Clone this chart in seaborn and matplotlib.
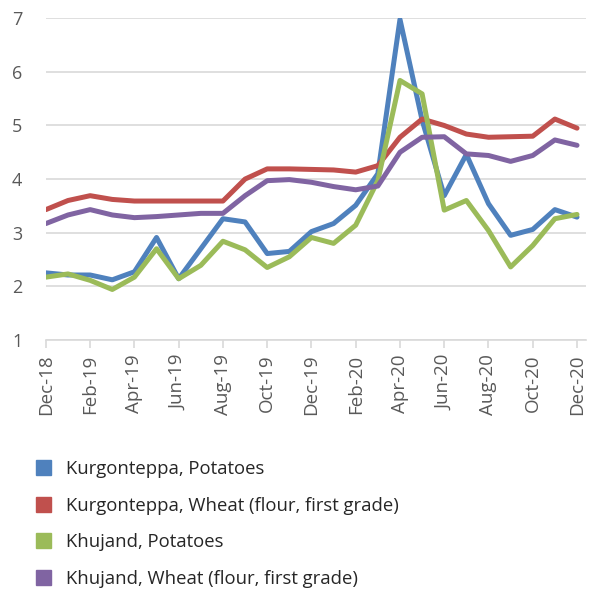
import matplotlib
matplotlib.use("Agg")
import matplotlib.pyplot as plt
from matplotlib.patches import Patch
import seaborn as sns
import pandas as pd

months = ["Dec-18", "Jan-19", "Feb-19", "Mar-19", "Apr-19", "May-19", "Jun-19", "Jul-19",
          "Aug-19", "Sep-19", "Oct-19", "Nov-19", "Dec-19", "Jan-20", "Feb-20", "Mar-20",
          "Apr-20", "May-20", "Jun-20", "Jul-20", "Aug-20", "Sep-20", "Oct-20", "Nov-20", "Dec-20"]

kurg_potatoes = [2.25, 2.21, 2.21, 2.12, 2.27, 2.91, 2.14, 2.70, 3.26, 3.20, 2.61, 2.65,
                 3.02, 3.17, 3.51, 4.10, 6.98, 5.10, 3.69, 4.46, 3.54, 2.95, 3.06, 3.43, 3.29]
kurg_wheat = [3.43, 3.60, 3.69, 3.62, 3.59, 3.59, 3.59, 3.59, 3.59, 4.00, 4.19, 4.19,
              4.18, 4.17, 4.13, 4.25, 4.78, 5.12, 5.00, 4.84, 4.78, 4.79, 4.80, 5.12, 4.95]
khuj_potatoes = [2.17, 2.23, 2.11, 1.94, 2.17, 2.70, 2.14, 2.39, 2.84, 2.68, 2.35, 2.55,
                 2.91, 2.80, 3.14, 3.97, 5.84, 5.59, 3.42, 3.60, 3.04, 2.36, 2.76, 3.26, 3.34]
khuj_wheat = [3.17, 3.33, 3.43, 3.33, 3.28, 3.30, 3.33, 3.36, 3.36, 3.69, 3.97, 3.99,
              3.94, 3.86, 3.80, 3.87, 4.50, 4.78, 4.79, 4.47, 4.44, 4.33, 4.44, 4.73, 4.63]

series_names = ["Kurgonteppa, Potatoes", "Kurgonteppa, Wheat (flour, first grade)",
                "Khujand, Potatoes", "Khujand, Wheat (flour, first grade)"]
series_values = [kurg_potatoes, kurg_wheat, khuj_potatoes, khuj_wheat]
colors = ["#4F81BD", "#C0504D", "#9BBB59", "#8064A2"]

rows = []
for name, vals in zip(series_names, series_values):
    for i, v in enumerate(vals):
        rows.append({"idx": i, "value": v, "series": name})
df = pd.DataFrame(rows)

sns.set_theme(style="white")
plt.rcParams["font.family"] = ["Open Sans", "DejaVu Sans"]

fig = plt.figure(figsize=(5.96, 5.90), dpi=100)
ax = fig.add_axes([0.077, 0.424, 0.906, 0.545])

sns.lineplot(data=df, x="idx", y="value", hue="series", hue_order=series_names,
             palette=colors, linewidth=3.6, legend=False, ax=ax)

ax.set_xlim(0, 24.4)
ax.set_ylim(1, 7)
ax.set_yticks([1, 2, 3, 4, 5, 6, 7])
ax.grid(axis="y", color="#d9d9d9", linewidth=1.2)
ax.set_axisbelow(True)
ax.set_xticks(range(0, 25, 2))
ax.set_xticklabels([months[i] for i in range(0, 25, 2)], rotation=90)
ax.set_xlabel("")
ax.set_ylabel("")
for s in ["left", "right", "top"]:
    ax.spines[s].set_visible(False)
ax.spines["bottom"].set_color("#d9d9d9")
ax.spines["bottom"].set_linewidth(1.2)
ax.tick_params(axis="x", bottom=True, length=5.5, color="#d9d9d9", width=1.2,
               labelsize=13.5, labelcolor="#595959", pad=5)
ax.tick_params(axis="y", left=False, labelsize=13, labelcolor="#595959", pad=11)

handles = [Patch(facecolor=c, edgecolor=c) for c in colors]
fig.legend(handles, series_names, loc="upper left", bbox_to_anchor=(0.060, 0.220),
           frameon=False, fontsize=13.3, handlelength=0.85, handleheight=0.85,
           labelspacing=1.0, handletextpad=0.8, borderpad=0, borderaxespad=0,
           labelcolor="#262626")

fig.savefig("out.png", dpi=100)
